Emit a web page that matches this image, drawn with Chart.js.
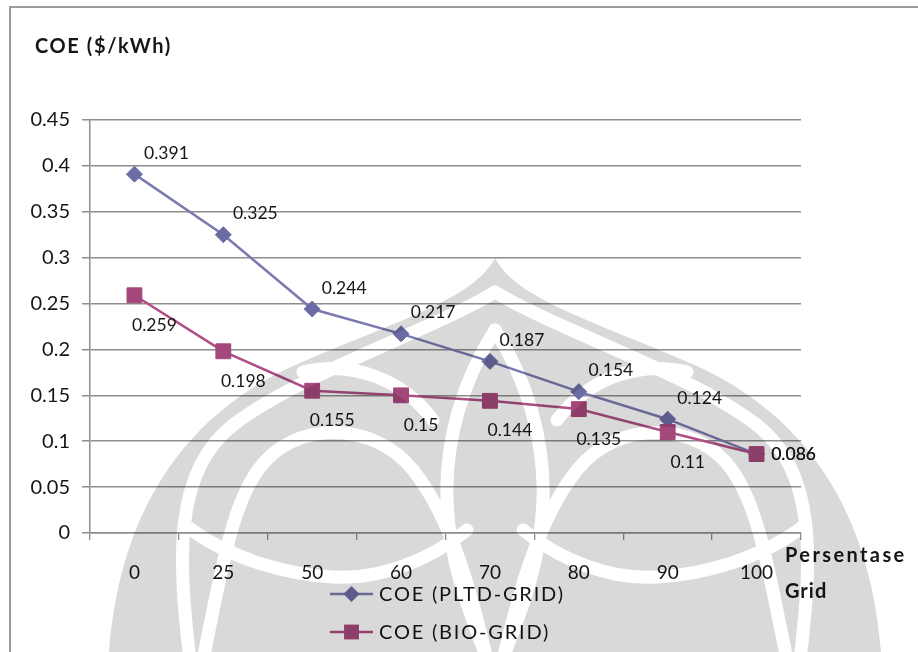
<!DOCTYPE html>
<html>
<head>
<meta charset="utf-8">
<script src="https://cdn.jsdelivr.net/npm/chart.js@4/dist/chart.umd.min.js"></script>
<style>
  html, body { margin: 0; padding: 0; background: #ffffff; }
  canvas { display: block; }
</style>
</head>
<body>
<canvas id="coeChart" width="918" height="652"></canvas>
<script>
// Grid share (%) on the x axis and cost of energy for both hybrid systems
const gridShares = ['0', '25', '50', '60', '70', '80', '90', '100'];
const coePltdGrid = [0.391, 0.325, 0.244, 0.217, 0.187, 0.154, 0.124, 0.086];
const coeBioGrid = [0.259, 0.198, 0.155, 0.15, 0.144, 0.135, 0.11, 0.086];
const seriesNames = ['COE (PLTD-GRID)', 'COE (BIO-GRID)'];
const yAxisTitle = 'COE ($/kWh)';
const xAxisTitle = ['Persentase', 'Grid'];

const AXIS_GREY = '#8e8e8e';
const TEXT_DARK = '#161616';

function drawMarker(ctx, style, x, y, r, color) {
  ctx.save();
  ctx.fillStyle = color;
  ctx.beginPath();
  if (style === 'rectRot') {
    ctx.moveTo(x, y - r);
    ctx.lineTo(x + r, y);
    ctx.lineTo(x, y + r);
    ctx.lineTo(x - r, y);
  } else {
    const h = r * Math.SQRT1_2;
    ctx.rect(x - h, y - h, 2 * h, 2 * h);
  }
  ctx.closePath();
  ctx.fill();
  ctx.restore();
}

// Faint page emblem printed over the figure (symmetric about x = 495)
const EMBLEM_AXIS = 495;
function mirrorPath(d) {
  return d.replace(/(-?\d+(?:\.\d+)?) (-?\d+(?:\.\d+)?)/g,
    (m, x, y) => (2 * EMBLEM_AXIS - Number(x)) + ' ' + y);
}
const emblemOuter =
  'M 495 258 C 517 300 597 322 697 366 C 797 412 869 500 881 652 ' +
  'L 109 652 C 121 500 193 412 293 366 C 393 322 473 300 495 258 Z';
const emblemGapsRight = [
  'M 495 292 C 557 330 687 372 757 425 C 817 472 812 560 800 660',
  'M 495 330 C 527 380 545 440 543 500 C 541 560 522 610 502 660',
  'M 557 420 C 587 380 637 360 687 372',
  'M 503 660 C 517 600 537 520 577 470 C 617 420 697 420 732 470 C 757 505 767 560 787 660',
  'M 523 530 C 560 560 610 580 657 577 C 700 575 760 560 805 525'
];

function drawEmblem(ctx) {
  ctx.save();
  const outer = new Path2D(emblemOuter);
  const layer = document.createElement('canvas');
  layer.width = 918; layer.height = 652;
  const lc = layer.getContext('2d');
  lc.fillStyle = '#d9d9d9';
  lc.fill(outer);
  lc.globalCompositeOperation = 'destination-out';
  lc.lineWidth = 13;
  lc.lineCap = 'round';
  emblemGapsRight.forEach((d) => {
    lc.stroke(new Path2D(d));
    lc.stroke(new Path2D(mirrorPath(d)));
  });
  ctx.globalCompositeOperation = 'multiply';
  ctx.drawImage(layer, 0, 0);
  ctx.restore();
}

// Value labels, legend, axis titles and the outer frame
const coeDecor = {
  id: 'coeDecor',
  afterDraw(chart) {
    const ctx = chart.ctx;
    ctx.save();

    // frame
    ctx.strokeStyle = '#9c9c9c';
    ctx.lineWidth = 2;
    ctx.beginPath();
    ctx.moveTo(10, 652);
    ctx.lineTo(10, 7);
    ctx.lineTo(918, 7);
    ctx.stroke();

    // value labels
    ctx.font = '17.5px Lato';
    ctx.fillStyle = TEXT_DARK;
    ctx.textAlign = 'center';
    ctx.textBaseline = 'middle';
    chart.data.datasets.forEach((ds, di) => {
      const meta = chart.getDatasetMeta(di);
      meta.data.forEach((pt, i) => {
        const last = i === meta.data.length - 1;
        let x, y;
        if (last) { x = pt.x + 37; y = pt.y; }
        else if (di === 0) { x = pt.x + 32; y = pt.y - 21; }
        else { x = pt.x + 20; y = pt.y + 30; }
        ctx.fillText(String(ds.data[i]), x, y);
      });
    });

    // legend
    const rows = [594, 632];
    ctx.textAlign = 'left';
    ctx.font = '20px Lato';
    ctx.letterSpacing = '1.8px';
    chart.data.datasets.forEach((ds, di) => {
      const y = rows[di];
      ctx.strokeStyle = ds.borderColor;
      ctx.lineWidth = ds.borderWidth;
      ctx.beginPath();
      ctx.moveTo(330, y);
      ctx.lineTo(373, y);
      ctx.stroke();
      drawMarker(ctx, ds.pointStyle, 351.5, y, ds.pointRadius, ds.pointBackgroundColor);
      ctx.fillStyle = TEXT_DARK;
      ctx.fillText(ds.label, 379, y + 1);
    });

    // axis titles
    ctx.font = 'bold 20px Lato';
    ctx.fillStyle = TEXT_DARK;
    ctx.letterSpacing = '1.6px';
    ctx.fillText(yAxisTitle, 35, 47);
    ctx.letterSpacing = '2.4px';
    ctx.fillText(xAxisTitle[0], 785, 556);
    ctx.letterSpacing = '1px';
    ctx.fillText(xAxisTitle[1], 785, 592);

    ctx.restore();

    drawEmblem(ctx);
  }
};

function build() {
  const ctx = document.getElementById('coeChart').getContext('2d');
  new Chart(ctx, {
    type: 'line',
    data: {
      labels: gridShares,
      datasets: [
        {
          label: seriesNames[0],
          data: coePltdGrid,
          borderColor: '#7a7ab0',
          borderWidth: 2.5,
          pointStyle: 'rectRot',
          pointRadius: 8,
          pointBackgroundColor: '#6c6ca4',
          pointBorderColor: '#6c6ca4',
          pointBorderWidth: 1,
          tension: 0,
          order: 1
        },
        {
          label: seriesNames[1],
          data: coeBioGrid,
          borderColor: '#ae4e84',
          borderWidth: 2.5,
          pointStyle: 'rect',
          pointRadius: 10.5,
          pointBackgroundColor: '#a4487b',
          pointBorderColor: '#a4487b',
          pointBorderWidth: 1,
          tension: 0,
          order: 0
        }
      ]
    },
    options: {
      responsive: false,
      animation: false,
      layout: { padding: { left: 10, top: 120, right: 117, bottom: 0 } },
      plugins: {
        legend: { display: false },
        tooltip: { enabled: false }
      },
      scales: {
        x: {
          offset: true,
          grid: {
            offset: true,
            drawOnChartArea: false,
            tickLength: 7,
            color: AXIS_GREY,
            lineWidth: 1.3
          },
          border: { color: AXIS_GREY, width: 1.5 },
          ticks: {
            font: { family: 'Lato', size: 19 },
            color: TEXT_DARK,
            padding: 21,
            maxRotation: 0
          },
          afterFit(scale) { scale.height = 119; }
        },
        y: {
          min: 0,
          max: 0.45,
          grid: { color: AXIS_GREY, lineWidth: 1.5, tickLength: 8 },
          border: { color: AXIS_GREY, width: 1.5 },
          ticks: {
            stepSize: 0.05,
            font: { family: 'Lato', size: 20 },
            color: TEXT_DARK,
            padding: 12,
            callback: (v) => String(parseFloat(Number(v).toFixed(2)))
          },
          afterFit(scale) { scale.width = 80; }
        }
      }
    },
    plugins: [coeDecor]
  });
}

Promise.all([
  document.fonts.load('20px Lato'),
  document.fonts.load('bold 20px Lato')
]).then(build, build);
</script>
</body>
</html>
